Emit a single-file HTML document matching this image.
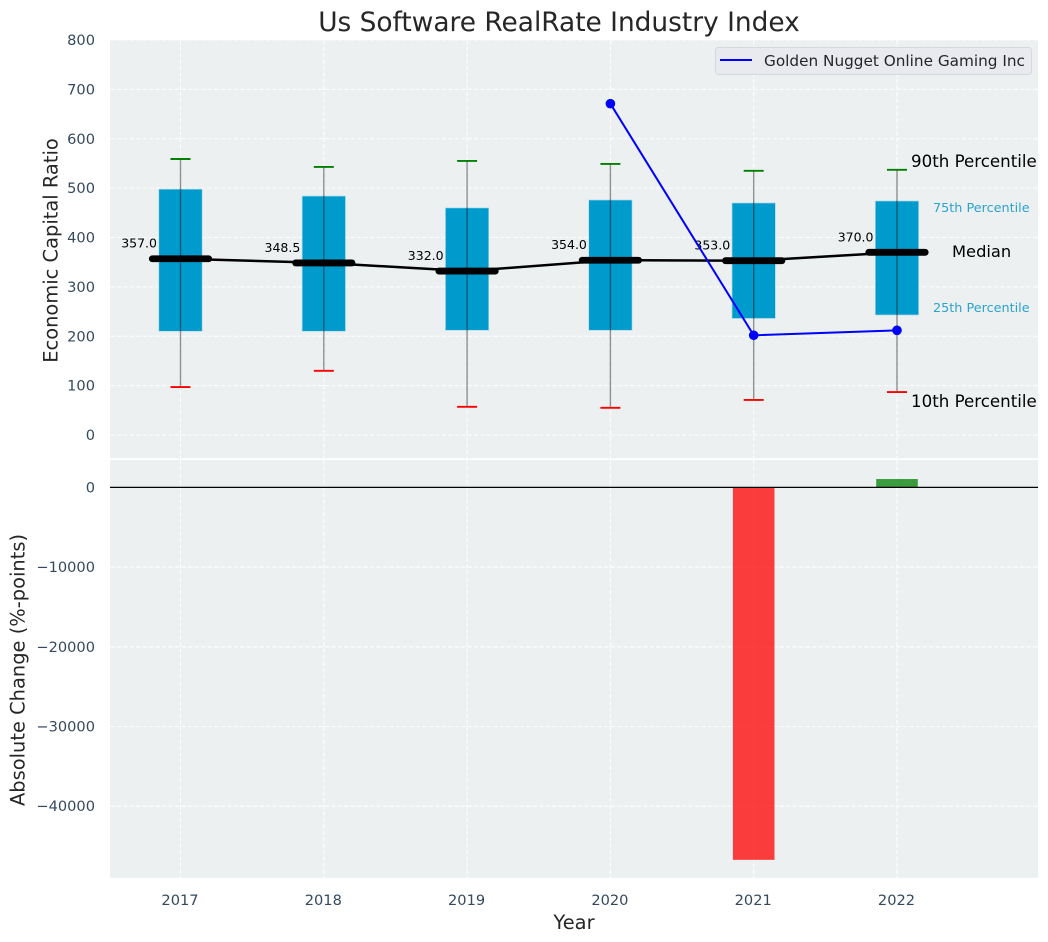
<!DOCTYPE html>
<html>
<head>
<meta charset="utf-8">
<title>Us Software RealRate Industry Index</title>
<style>
html,body{margin:0;padding:0;background:#fff;}
svg{display:block;font-family:"DejaVu Sans","Liberation Sans",sans-serif;}
</style>
</head>
<body>
<svg id="chart" xmlns="http://www.w3.org/2000/svg" width="1048" height="942" viewBox="0 0 1048 942">
<rect x="0" y="0" width="1048" height="942" fill="#ffffff"/>
<rect x="110" y="40" width="928" height="418.3" fill="#ecf0f1"/>
<rect x="110" y="460" width="928" height="417.8" fill="#ecf0f1"/>
<g id="grid"></g>
<g id="bars"></g>
<line x1="110" x2="1038" y1="487.4" y2="487.4" stroke="#000" stroke-width="1.3"/>
<g id="boxes"></g>
<g id="medians"></g>
<g id="company"></g>
<g id="ticks" font-size="14.6" fill="#34495e"></g>

<text x="559" y="31" font-size="26.4" text-anchor="middle" fill="#262626">Us Software RealRate Industry Index</text>
<text transform="translate(57.5,250.5) rotate(-90)" font-size="19.44" text-anchor="middle" fill="#262626">Economic Capital Ratio</text>
<text transform="translate(24.5,670) rotate(-90)" font-size="19.44" text-anchor="middle" fill="#262626">Absolute Change (%-points)</text>
<text x="574" y="929" font-size="19.44" text-anchor="middle" fill="#262626">Year</text>

<text x="911" y="167" font-size="16.66" fill="#000">90th Percentile</text>
<text x="933" y="212" font-size="12.8" fill="#2ba3cf">75th Percentile</text>
<text x="952" y="257" font-size="16.3" fill="#000">Median</text>
<text x="933" y="312" font-size="12.8" fill="#2ba3cf">25th Percentile</text>
<text x="911" y="407" font-size="16.66" fill="#000">10th Percentile</text>

<g>
<rect x="715.5" y="47.5" width="316" height="27" rx="3" fill="#e8eaf0" stroke="#d5d8dc" stroke-width="1"/>
<line x1="720" x2="752" y1="60" y2="60" stroke="#0000ff" stroke-width="2"/>
<text x="764" y="66" font-size="15.28" fill="#262626">Golden Nugget Online Gaming Inc</text>
</g>
</svg>
<script>
const years = [2017, 2018, 2019, 2020, 2021, 2022];
const p90 = [559, 543, 555, 549, 535, 537];
const p75 = [498, 484, 460, 476, 470, 474];
const medianValues = [357, 348.5, 332, 354, 353, 370];
const p25 = [210, 210, 212, 212, 236, 243];
const p10 = [97, 130, 57, 55, 71, 87];
const companyYears = [2020, 2021, 2022];
const companyValues = [671, 202, 212];
const changeYears = [2021, 2022];
const changeValues = [-46730, 1050];
const topTicks = [0, 100, 200, 300, 400, 500, 600, 700, 800];
const bottomTicks = [0, -10000, -20000, -30000, -40000];

const SVGNS = 'http://www.w3.org/2000/svg';
const xScale = v => 180.5 + (v - 2017) * 143.3;
const yTop = v => 435 - v * 0.49375;
const yBottom = v => 487.4 - v * 0.00797;

function make(tag, props, parent) {
  const el = document.createElementNS(SVGNS, tag);
  for (const k in props) el.setAttribute(k, props[k]);
  parent.appendChild(el);
  return el;
}
const grid = document.getElementById('grid');
const bars = document.getElementById('bars');
const boxes = document.getElementById('boxes');
const medians = document.getElementById('medians');
const company = document.getElementById('company');
const ticks = document.getElementById('ticks');
const dash = {stroke: '#ffffff', 'stroke-width': 1.1, 'stroke-dasharray': '4.5,2', opacity: 0.9};

years.forEach(y => {
  const x = xScale(y);
  const g1 = make('line', Object.assign({x1: x, x2: x, y1: 40, y2: 458.3}, dash), grid);
  
  
  const g2 = make('line', Object.assign({x1: x, x2: x, y1: 460, y2: 877.8}, dash), grid);
  
  
  const t = make('text', {x: x - 0.5, y: 905, 'text-anchor': 'middle'}, ticks);
  t.textContent = y;
  
  
});

topTicks.forEach(v => {
  const y = yTop(v);
  const g = make('line', Object.assign({x1: 110, x2: 1038, y1: y, y2: y}, dash), grid);
  
  
  const t = make('text', {x: 95, y: y + 5, 'text-anchor': 'end'}, ticks);
  t.textContent = v;
  
  
});

bottomTicks.forEach(v => {
  const y = yBottom(v);
  const g = make('line', Object.assign({x1: 110, x2: 1038, y1: y, y2: y}, dash), grid);
  
  
  const t = make('text', {x: 95, y: y + 5, 'text-anchor': 'end'}, ticks);
  t.textContent = v < 0 ? '\u2212' + Math.abs(v) : String(v);
  
  
});

changeYears.forEach((yr, i) => {
  const v = changeValues[i];
  const y0 = yBottom(0), y1 = yBottom(v);
  const r = make('rect', {
    x: xScale(yr) - 20.8, width: 41.6,
    y: Math.min(y0, y1), height: Math.abs(y1 - y0),
    fill: v < 0 ? '#ff0000' : '#008000', opacity: 0.75
  }, bars);
  
  
});

years.forEach((yr, i) => {
  const x = xScale(yr);
  const box = make('rect', {
    x: x - 21.7, width: 43.4,
    y: yTop(p75[i]), height: yTop(p25[i]) - yTop(p75[i]),
    fill: '#009bcd', stroke: '#b5dcea', 'stroke-width': 0.7
  }, boxes);
  
  
  const w = make('line', {x1: x, x2: x, y1: yTop(p90[i]), y2: yTop(p10[i]), stroke: '#000', 'stroke-opacity': 0.42, 'stroke-width': 1.4}, boxes);
  
  
  const c1 = make('line', {x1: x - 10, x2: x + 10, y1: yTop(p90[i]), y2: yTop(p90[i]), stroke: '#008000', 'stroke-width': 1.9}, boxes);
  
  
  const c2 = make('line', {x1: x - 10, x2: x + 10, y1: yTop(p10[i]), y2: yTop(p10[i]), stroke: '#ff0000', 'stroke-width': 1.9}, boxes);
  
  
});

const medianPath = make('polyline', {
  points: years.map((yr, i) => xScale(yr) + ',' + yTop(medianValues[i])).join(' '),
  fill: 'none', stroke: '#000', 'stroke-width': 2.5
}, medians);



years.forEach((yr, i) => {
  const x = xScale(yr), y = yTop(medianValues[i]);
  const m = make('line', {x1: x - 28.2, x2: x + 28.2, y1: y, y2: y, stroke: '#000', 'stroke-width': 6.8, 'stroke-linecap': 'round'}, medians);
  
  
  const t = make('text', {x: x - 23.5, y: y - 11, 'font-size': 12.5, 'text-anchor': 'end', fill: '#000'}, medians);
  t.textContent = medianValues[i].toFixed(1);
  
  
});

const companyPath = make('polyline', {
  points: companyYears.map((yr, i) => xScale(yr) + ',' + yTop(companyValues[i])).join(' '),
  fill: 'none', stroke: '#0000ff', 'stroke-width': 2
}, company);



companyYears.forEach((yr, i) => {
  const p = make('circle', {cx: xScale(yr), cy: yTop(companyValues[i]), r: 4.8, fill: '#0000ff'}, company);
  
  
});
</script>
</body>
</html>
